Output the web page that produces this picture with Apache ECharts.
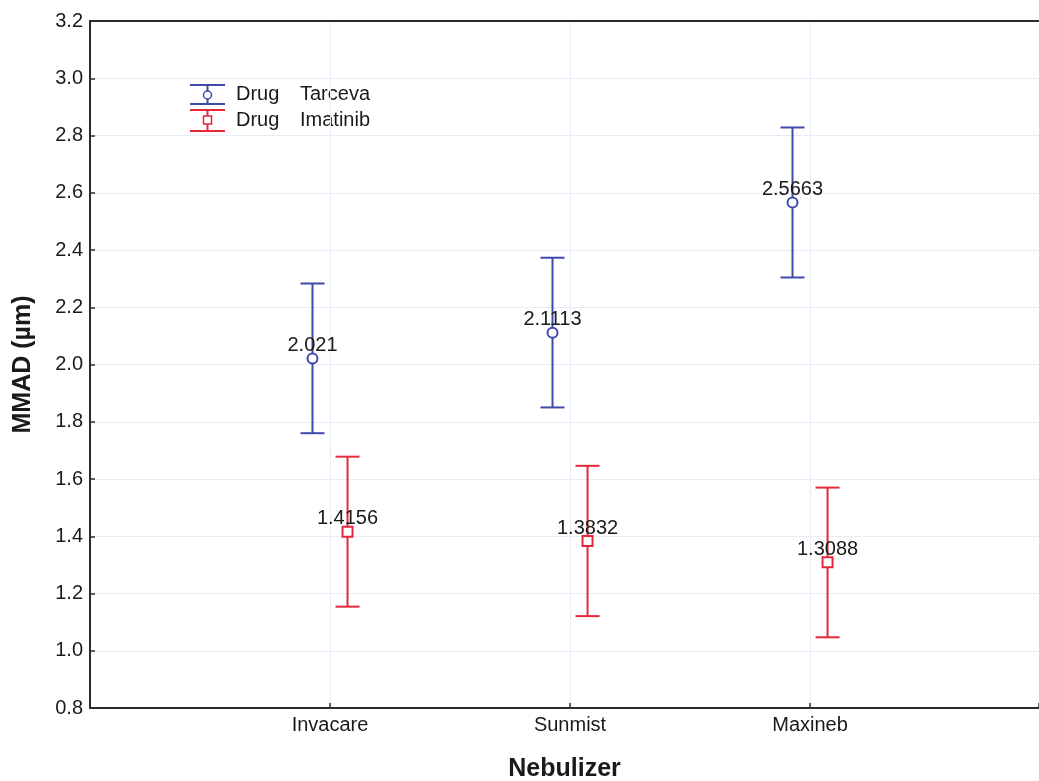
<!DOCTYPE html>
<html>
<head>
<meta charset="utf-8">
<script src="https://cdn.jsdelivr.net/npm/echarts@6/dist/echarts.min.js"></script>
<style>
html,body{margin:0;padding:0;background:#fff;overflow:hidden;}
#chart{width:1039px;height:781px;}
</style>
</head>
<body>
<div id="chart"></div>
<script>
// ---- data ----
var categories = ['Invacare', 'Sunmist', 'Maxineb'];
var seriesNames = ['Tarceva', 'Imatinib'];
var tarcevaMean = [2.021, 2.1113, 2.5663];
var tarcevaLow  = [1.760, 1.850, 2.304];
var tarcevaHigh = [2.283, 2.373, 2.828];
var imatinibMean = [1.4156, 1.3832, 1.3088];
var imatinibLow  = [1.154, 1.121, 1.047];
var imatinibHigh = [1.678, 1.646, 1.570];
var yTicks = [0.8, 1.0, 1.2, 1.4, 1.6, 1.8, 2.0, 2.2, 2.4, 2.6, 2.8, 3.0, 3.2];

// ---- styling ----
var FONT = 'Liberation Sans, Arial, Helvetica, sans-serif';
var BLUE = '#3f4aa9';
var RED = '#e3283c';
var GRID_COLOR = '#e6edf7';
var AXIS_COLOR = '#2b2b2b';
var OFFSET = 0.073;   // horizontal dodge of the two groups (axis units)
var X_MAX = 3.954;    // the frame runs off the right edge of the picture

function pos(i, side) { return i + 1 + side * OFFSET; }

function meanData(means, side) {
  return means.map(function (v, i) { return [pos(i, side), v]; });
}
function errData(lows, highs, side) {
  return lows.map(function (v, i) { return [pos(i, side), v, highs[i]]; });
}

function errorRender(color) {
  return function (params, api) {
    var x = api.value(0);
    var lo = api.coord([x, api.value(1)]);
    var hi = api.coord([x, api.value(2)]);
    var hw = 12;
    var st = { stroke: color, lineWidth: 2 };
    return {
      type: 'group',
      children: [
        { type: 'line', shape: { x1: lo[0], y1: lo[1], x2: hi[0], y2: hi[1] }, style: st },
        { type: 'line', shape: { x1: hi[0] - hw, y1: hi[1], x2: hi[0] + hw, y2: hi[1] }, style: st },
        { type: 'line', shape: { x1: lo[0] - hw, y1: lo[1], x2: lo[0] + hw, y2: lo[1] }, style: st }
      ]
    };
  };
}

function meanLabel() {
  return {
    show: true,
    position: 'top',
    distance: -3,
    color: '#1a1a1a',
    fontFamily: FONT,
    fontSize: 20,
    formatter: function (p) { return String(p.value[1]); }
  };
}

var chart = echarts.init(document.getElementById('chart'), null, { renderer: 'canvas' });

var axisLineStyle = { color: AXIS_COLOR, width: 2 };

var option = {
  backgroundColor: '#fff',
  animation: false,
  grid: { left: 90, top: 21, bottom: 73, right: 0, outerBoundsMode: 'none', containLabel: false },
  xAxis: [{
    type: 'value',
    min: 0, max: X_MAX, interval: 1,
    name: 'Nebulizer',
    nameLocation: 'middle',
    nameGap: 49,
    nameTextStyle: { fontFamily: FONT, fontSize: 25, fontWeight: 'bold', color: '#1a1a1a' },
    axisLine: { show: true, lineStyle: axisLineStyle },
    axisTick: { show: true, inside: true, length: 5, lineStyle: { color: AXIS_COLOR, width: 1.5 } },
    axisLabel: {
      fontFamily: FONT, fontSize: 20, color: '#1a1a1a', margin: 7,
      formatter: function (v) {
        if (Math.abs(v - Math.round(v)) > 1e-6) return '';
        return categories[Math.round(v) - 1] || '';
      }
    },
    splitLine: { show: true, lineStyle: { color: GRID_COLOR, width: 1 } }
  }, {
    // top frame line
    type: 'value', position: 'top',
    min: 0, max: X_MAX,
    axisLine: { show: true, onZero: false, lineStyle: axisLineStyle },
    axisTick: { show: false }, axisLabel: { show: false }, splitLine: { show: false }
  }],
  yAxis: {
    type: 'value',
    min: yTicks[0], max: yTicks[yTicks.length - 1], interval: 0.2,
    name: 'MMAD (µm)',
    nameLocation: 'middle',
    nameGap: 54,
    nameTextStyle: { fontFamily: FONT, fontSize: 25, fontWeight: 'bold', color: '#1a1a1a' },
    axisLine: { show: true, lineStyle: axisLineStyle },
    axisTick: { show: true, inside: true, length: 5, lineStyle: { color: AXIS_COLOR, width: 1.5 } },
    axisLabel: {
      fontFamily: FONT, fontSize: 20, color: '#1a1a1a', margin: 7,
      formatter: function (v) { return v.toFixed(1); }
    },
    splitLine: { show: true, lineStyle: { color: GRID_COLOR, width: 1 } }
  },
  series: [
    {
      name: seriesNames[0] + ' CI', type: 'custom',
      renderItem: errorRender(BLUE),
      encode: { x: 0, y: [1, 2] },
      data: errData(tarcevaLow, tarcevaHigh, -1),
      z: 2
    },
    {
      name: seriesNames[1] + ' CI', type: 'custom',
      renderItem: errorRender(RED),
      encode: { x: 0, y: [1, 2] },
      data: errData(imatinibLow, imatinibHigh, 1),
      z: 2
    },
    {
      name: seriesNames[0], type: 'scatter',
      symbol: 'circle', symbolSize: 10,
      itemStyle: { color: '#fff', borderColor: BLUE, borderWidth: 2, opacity: 1 },
      label: meanLabel(),
      data: meanData(tarcevaMean, -1),
      z: 3
    },
    {
      name: seriesNames[1], type: 'scatter',
      symbol: 'rect', symbolSize: 10,
      itemStyle: { color: '#fff', borderColor: RED, borderWidth: 2, opacity: 1 },
      label: meanLabel(),
      data: meanData(imatinibMean, 1),
      z: 3
    }
  ],
  graphic: [
    // legend: Tarceva
    { type: 'line', shape: { x1: 190, y1: 85, x2: 225, y2: 85 }, style: { stroke: BLUE, lineWidth: 2 } },
    { type: 'line', shape: { x1: 190, y1: 104, x2: 225, y2: 104 }, style: { stroke: BLUE, lineWidth: 2 } },
    { type: 'line', shape: { x1: 207.5, y1: 85, x2: 207.5, y2: 104 }, style: { stroke: BLUE, lineWidth: 2 } },
    { type: 'circle', shape: { cx: 207.5, cy: 95, r: 4 }, style: { fill: '#fff', stroke: BLUE, lineWidth: 1.5 } },
    { type: 'text', left: 236, top: 84, style: { text: 'Drug', font: '20px ' + FONT, fill: '#1a1a1a' } },
    { type: 'text', left: 300, top: 84, style: { text: seriesNames[0], font: '20px ' + FONT, fill: '#1a1a1a' } },
    // legend: Imatinib
    { type: 'line', shape: { x1: 190, y1: 110, x2: 225, y2: 110 }, style: { stroke: RED, lineWidth: 2 } },
    { type: 'line', shape: { x1: 190, y1: 131, x2: 225, y2: 131 }, style: { stroke: RED, lineWidth: 2 } },
    { type: 'line', shape: { x1: 207.5, y1: 110, x2: 207.5, y2: 131 }, style: { stroke: RED, lineWidth: 2 } },
    { type: 'rect', shape: { x: 203.5, y: 116, width: 8, height: 8 }, style: { fill: '#fff', stroke: RED, lineWidth: 1.5 } },
    { type: 'text', left: 236, top: 110, style: { text: 'Drug', font: '20px ' + FONT, fill: '#1a1a1a' } },
    { type: 'text', left: 300, top: 110, style: { text: seriesNames[1], font: '20px ' + FONT, fill: '#1a1a1a' } }
  ]
};

chart.setOption(option);
</script>
</body>
</html>
